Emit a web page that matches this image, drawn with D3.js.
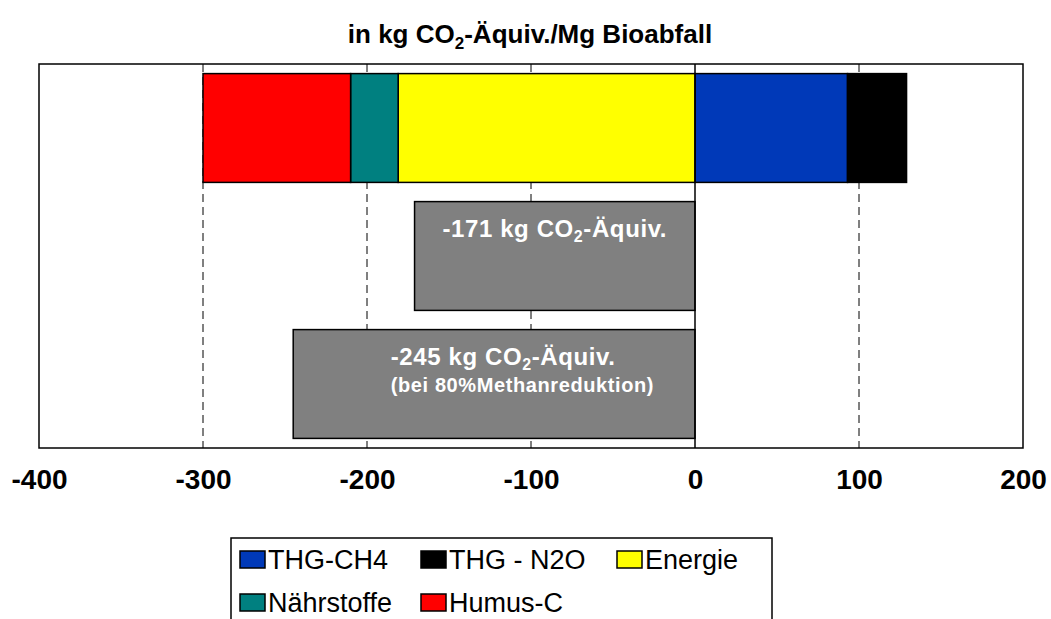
<!DOCTYPE html>
<html>
<head>
<meta charset="utf-8">
<script src="https://cdn.jsdelivr.net/npm/d3@7/dist/d3.min.js"></script>
<style>
  html, body { margin: 0; padding: 0; background: #fff; }
  svg { display: block; }
  text { font-family: "Liberation Sans", Arial, sans-serif; }
</style>
</head>
<body>
<svg id="chart" width="1051" height="619"></svg>
<script>
// ---- data ----
const categories = ["Einzelbeiträge", "Netto", "Netto (80% Methanreduktion)"];
const seriesNames = ["THG-CH4", "THG - N2O", "Energie", "Nährstoffe", "Humus-C"];
const seriesValues = [93, 36, -181, -29, -90];
const seriesColors = ["#0039B8", "#000000", "#FFFF00", "#008080", "#FF0000"];
const netValues = [-171, -245];
const netLabels = ["-171 kg CO|2|-Äquiv.", "-245 kg CO|2|-Äquiv."];
const netNote = ["", "(bei 80%Methanreduktion)"];
const tickValues = [-400, -300, -200, -100, 0, 100, 200];
const gridValues = [-300, -200, -100, 100];
const legendOrder = [["THG-CH4", "THG - N2O", "Energie"], ["Nährstoffe", "Humus-C"]];

// ---- layout ----
const svg = d3.select("#chart");
const plot = { left: 39, right: 1023, top: 64, bottom: 448 };
const x = d3.scaleLinear().domain([-400, 200]).range([plot.left, plot.right]);
const y = d3.scaleBand().domain(categories).range([plot.top, plot.bottom])
  .paddingInner(0.15).paddingOuter(0.075);
const labelDx = [0, 9];

// title
const title = svg.append("text")
  .attr("x", 530).attr("y", 43)
  .attr("text-anchor", "middle")
  .attr("font-weight", "bold").attr("font-size", 26).attr("fill", "#000");
title.append("tspan").text("in kg CO");
title.append("tspan").text("2").attr("font-size", 17).attr("dy", 6);
title.append("tspan").text("-Äquiv./Mg Bioabfall").attr("dy", -6);

// grid lines
svg.append("g").selectAll("line").data(gridValues).join("line")
  .attr("x1", d => x(d)).attr("x2", d => x(d))
  .attr("y1", plot.top).attr("y2", plot.bottom)
  .attr("stroke", "#000").attr("stroke-width", 1)
  .attr("stroke-dasharray", "8,5");

// stacked bar
let posAcc = 0, negAcc = 0;
const stacked = seriesValues.map((v, i) => {
  let x0, x1;
  if (v >= 0) { x0 = posAcc; x1 = posAcc + v; posAcc = x1; }
  else { x0 = negAcc + v; x1 = negAcc; negAcc = x0; }
  return { name: seriesNames[i], x0, x1, color: seriesColors[i] };
});
svg.append("g").selectAll("rect").data(stacked).join("rect")
  .attr("x", d => x(d.x0)).attr("width", d => x(d.x1) - x(d.x0))
  .attr("y", y(categories[0])).attr("height", y.bandwidth())
  .attr("fill", d => d.color)
  .attr("stroke", "#000").attr("stroke-width", 1.5);

// net bars
const netData = netValues.map((v, i) => ({ cat: categories[i + 1], v, label: netLabels[i], note: netNote[i], dx: labelDx[i] }));
svg.append("g").selectAll("rect").data(netData).join("rect")
  .attr("x", d => x(Math.min(0, d.v))).attr("width", d => Math.abs(x(d.v) - x(0)))
  .attr("y", d => y(d.cat)).attr("height", y.bandwidth())
  .attr("fill", "#808080")
  .attr("stroke", "#000").attr("stroke-width", 1.5);

// zero line
svg.append("line")
  .attr("x1", x(0)).attr("x2", x(0)).attr("y1", plot.top).attr("y2", plot.bottom)
  .attr("stroke", "#000").attr("stroke-width", 1.5);

// net labels
netData.forEach((d) => {
  const cx = (x(d.v) + x(0)) / 2 + d.dx;
  const ty = y(d.cat) + 35;
  const t = svg.append("text")
    .attr("x", cx).attr("y", ty)
    .attr("text-anchor", "middle")
    .attr("font-weight", "bold").attr("font-size", 24)
    .attr("letter-spacing", 0.6)
    .attr("fill", "#fff");
  const parts = d.label.split("|");
  t.append("tspan").text(parts[0]);
  t.append("tspan").text(parts[1]).attr("font-size", 16).attr("dy", 5);
  t.append("tspan").text(parts[2]).attr("dy", -5);
  if (d.note) {
    const bb = t.node().getBBox();
    svg.append("text")
      .attr("x", bb.x).attr("y", ty + 27)
      .attr("font-weight", "bold").attr("font-size", 20)
      .attr("letter-spacing", 0.6)
      .attr("fill", "#fff")
      .text(d.note);
  }
});

// plot frame
svg.append("rect")
  .attr("x", plot.left).attr("y", plot.top)
  .attr("width", plot.right - plot.left).attr("height", plot.bottom - plot.top)
  .attr("fill", "none").attr("stroke", "#000").attr("stroke-width", 1.5);

// x axis
const axis = svg.append("g")
  .attr("transform", `translate(0,${plot.bottom})`)
  .call(d3.axisBottom(x).tickValues(tickValues).tickSize(0).tickPadding(21)
    .tickFormat(d3.format("d")));
axis.select(".domain").remove();
axis.selectAll("text")
  .attr("font-family", "'Liberation Sans', Arial, sans-serif")
  .attr("font-weight", "bold").attr("font-size", 28).attr("fill", "#000")
  .text(d => String(d));

// legend
const legendBox = { x: 231, y: 538, w: 541, h: 100 };
svg.append("rect")
  .attr("x", legendBox.x).attr("y", legendBox.y)
  .attr("width", legendBox.w).attr("height", legendBox.h)
  .attr("fill", "#fff").attr("stroke", "#000").attr("stroke-width", 1.5);
const colX = [240, 421, 617];
const rowY = [551, 594];
legendOrder.forEach((row, r) => {
  row.forEach((name, c) => {
    const idx = seriesNames.indexOf(name);
    svg.append("rect")
      .attr("x", colX[c]).attr("y", rowY[r])
      .attr("width", 25).attr("height", 17)
      .attr("fill", seriesColors[idx])
      .attr("stroke", "#000").attr("stroke-width", 1.5);
    svg.append("text")
      .attr("x", colX[c] + 28).attr("y", rowY[r] + 18)
      .attr("font-size", 27).attr("fill", "#000")
      .text(name);
  });
});
</script>
</body>
</html>
